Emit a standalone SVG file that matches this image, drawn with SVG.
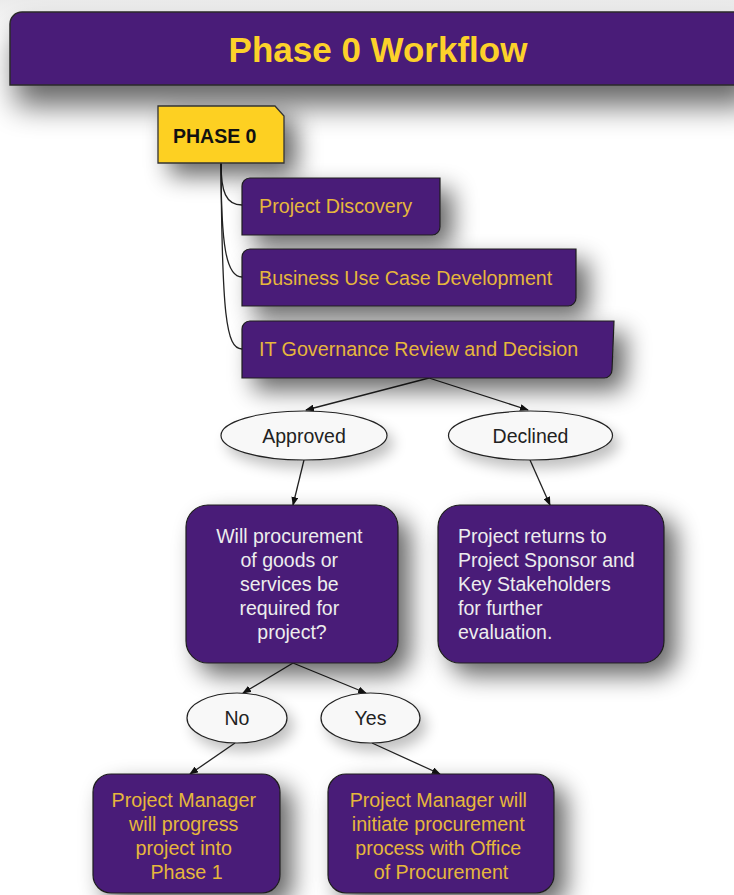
<svg xmlns="http://www.w3.org/2000/svg" width="734" height="895" viewBox="0 0 734 895">
<defs>
<style>
.box{fill:#4a1b78;stroke:#1e1e1e;stroke-width:1.2}
.ell{fill:#f8f8f8;stroke:#222;stroke-width:1.2}
.gold{font-family:"Liberation Sans",Arial,sans-serif;font-size:19.7px;fill:#e6b73c}
.white{font-family:"Liberation Sans",Arial,sans-serif;font-size:19.5px;fill:#ededed}
.dark{font-family:"Liberation Sans",Arial,sans-serif;font-size:19.5px;fill:#222}
.conn{fill:none;stroke:#222;stroke-width:1.3}
</style>
<linearGradient id="topg" x1="0" y1="0" x2="0" y2="1">
<stop offset="0" stop-color="#ebebeb"/>
<stop offset="1" stop-color="#ffffff"/>
</linearGradient>
<filter id="sh" x="-40%" y="-50%" width="200%" height="280%">
<feGaussianBlur in="SourceAlpha" stdDeviation="12"/>
<feOffset dx="12" dy="12"/>
<feComponentTransfer><feFuncA type="linear" slope="0.6"/></feComponentTransfer>
<feMerge><feMergeNode/><feMergeNode in="SourceGraphic"/></feMerge>
</filter>
<filter id="shs" x="-30%" y="-40%" width="170%" height="230%">
<feGaussianBlur in="SourceAlpha" stdDeviation="7"/>
<feOffset dx="6" dy="8"/>
<feComponentTransfer><feFuncA type="linear" slope="0.25"/></feComponentTransfer>
<feMerge><feMergeNode/><feMergeNode in="SourceGraphic"/></feMerge>
</filter>
<filter id="sht" x="-10%" y="-80%" width="130%" height="300%">
<feGaussianBlur in="SourceAlpha" stdDeviation="15"/>
<feOffset dx="6" dy="20"/>
<feComponentTransfer><feFuncA type="linear" slope="0.6"/></feComponentTransfer>
<feMerge><feMergeNode/><feMergeNode in="SourceGraphic"/></feMerge>
</filter>
<marker id="arr" markerUnits="userSpaceOnUse" markerWidth="9" markerHeight="7" refX="8" refY="3.5" orient="auto">
<path d="M0,0 L9,3.5 L0,7 Z" fill="#111"/>
</marker>
</defs>

<rect x="0" y="0" width="734" height="895" fill="#ffffff"/>
<rect x="0" y="0" width="734" height="40" fill="url(#topg)"/>

<g id="title">
<path d="M10,24 A12,12 0 0 1 22,12 L746,12 L746,85 L10,85 Z" fill="#4a1b78" stroke="#2a2a2a" stroke-width="1.5" filter="url(#sht)"/>
<text x="378" y="62" text-anchor="middle" font-family="Liberation Sans,Arial,sans-serif" font-size="35" font-weight="bold" fill="#fcd12a">Phase 0 Workflow</text>
</g>

<g id="connectors">
<path class="conn" d="M221,163 C221,192 226,205 242,205"/>
<path class="conn" d="M221,163 C221,245 226,277 242,277"/>
<path class="conn" d="M221,163 C222,315 226,349 242,349"/>
<path class="conn" d="M429,378 L306,410" marker-end="url(#arr)"/>
<path class="conn" d="M429,378 L528,410" marker-end="url(#arr)"/>
<path class="conn" d="M304,460 L293,505" marker-end="url(#arr)"/>
<path class="conn" d="M530,460 L550,505" marker-end="url(#arr)"/>
<path class="conn" d="M293,663 L243,693" marker-end="url(#arr)"/>
<path class="conn" d="M293,663 L366,693" marker-end="url(#arr)"/>
<path class="conn" d="M235,743 L190,774" marker-end="url(#arr)"/>
<path class="conn" d="M372,743 L440,774" marker-end="url(#arr)"/>
</g>

<g id="phase0">
<path d="M158,106 L275,106 L284,116 L284,163 L158,163 Z" fill="#fdd023" stroke="#333" stroke-width="1.3" filter="url(#sh)"/>
<text x="173" y="143" font-family="Liberation Sans,Arial,sans-serif" font-size="19.5" font-weight="bold" fill="#111">PHASE 0</text>
</g>

<g id="discovery">
<path class="box" d="M242,186 A8,8 0 0 1 250,178 L440,178 L440,227 A8,8 0 0 1 432,235 L242,235 Z" filter="url(#sh)"/>
<text class="gold" x="259" y="213">Project Discovery</text>
</g>

<g id="business">
<path class="box" d="M242,257 A8,8 0 0 1 250,249 L576,249 L576,298 A8,8 0 0 1 568,306 L242,306 Z" filter="url(#sh)"/>
<text class="gold" x="259" y="285">Business Use Case Development</text>
</g>

<g id="governance">
<path class="box" d="M242,329 A8,8 0 0 1 250,321 L614,321 L612,370 A8,8 0 0 1 604,378 L242,378 Z" filter="url(#sh)"/>
<text class="gold" x="259" y="356">IT Governance Review and Decision</text>
</g>

<g id="approved">
<ellipse class="ell" cx="304" cy="435.5" rx="83" ry="24.5" filter="url(#shs)"/>
<text class="dark" x="304" y="443" text-anchor="middle">Approved</text>
</g>

<g id="declined">
<ellipse class="ell" cx="530.5" cy="435.5" rx="82" ry="24.5" filter="url(#shs)"/>
<text class="dark" x="530.5" y="443" text-anchor="middle">Declined</text>
</g>

<g id="question">
<rect class="box" x="186" y="505" width="212" height="158" rx="22" filter="url(#sh)"/>
<text class="white" text-anchor="middle">
<tspan x="292" y="543">Will procurement</tspan>
<tspan x="292" y="567">of goods or</tspan>
<tspan x="292" y="591">services be</tspan>
<tspan x="292" y="615">required for</tspan>
<tspan x="292" y="639">project?</tspan>
</text>
</g>

<g id="returns">
<rect class="box" x="438" y="505" width="226" height="158" rx="22" filter="url(#sh)"/>
<text class="white">
<tspan x="458" y="543">Project returns to</tspan>
<tspan x="458" y="567">Project Sponsor and</tspan>
<tspan x="458" y="591">Key Stakeholders</tspan>
<tspan x="458" y="615">for further</tspan>
<tspan x="458" y="639">evaluation.</tspan>
</text>
</g>

<g id="no">
<ellipse class="ell" cx="237" cy="718" rx="50" ry="25" filter="url(#shs)"/>
<text class="dark" x="237" y="725" text-anchor="middle">No</text>
</g>

<g id="yes">
<ellipse class="ell" cx="370.5" cy="718" rx="49.5" ry="25" filter="url(#shs)"/>
<text class="dark" x="370.5" y="725" text-anchor="middle">Yes</text>
</g>

<g id="phase1">
<rect class="box" x="93" y="774" width="187" height="119" rx="18" filter="url(#sh)"/>
<text class="gold" text-anchor="middle">
<tspan x="186.5" y="806.5">Project Manager</tspan>
<tspan x="186.5" y="830.5">will progress</tspan>
<tspan x="186.5" y="854.5">project into</tspan>
<tspan x="186.5" y="878.5">Phase 1</tspan>
</text>
</g>

<g id="procurement">
<rect class="box" x="328" y="774" width="226" height="119" rx="18" filter="url(#sh)"/>
<text class="gold" text-anchor="middle">
<tspan x="441" y="806.5">Project Manager will</tspan>
<tspan x="441" y="830.5">initiate procurement</tspan>
<tspan x="441" y="854.5">process with Office</tspan>
<tspan x="441" y="878.5">of Procurement</tspan>
</text>
</g>
</svg>
